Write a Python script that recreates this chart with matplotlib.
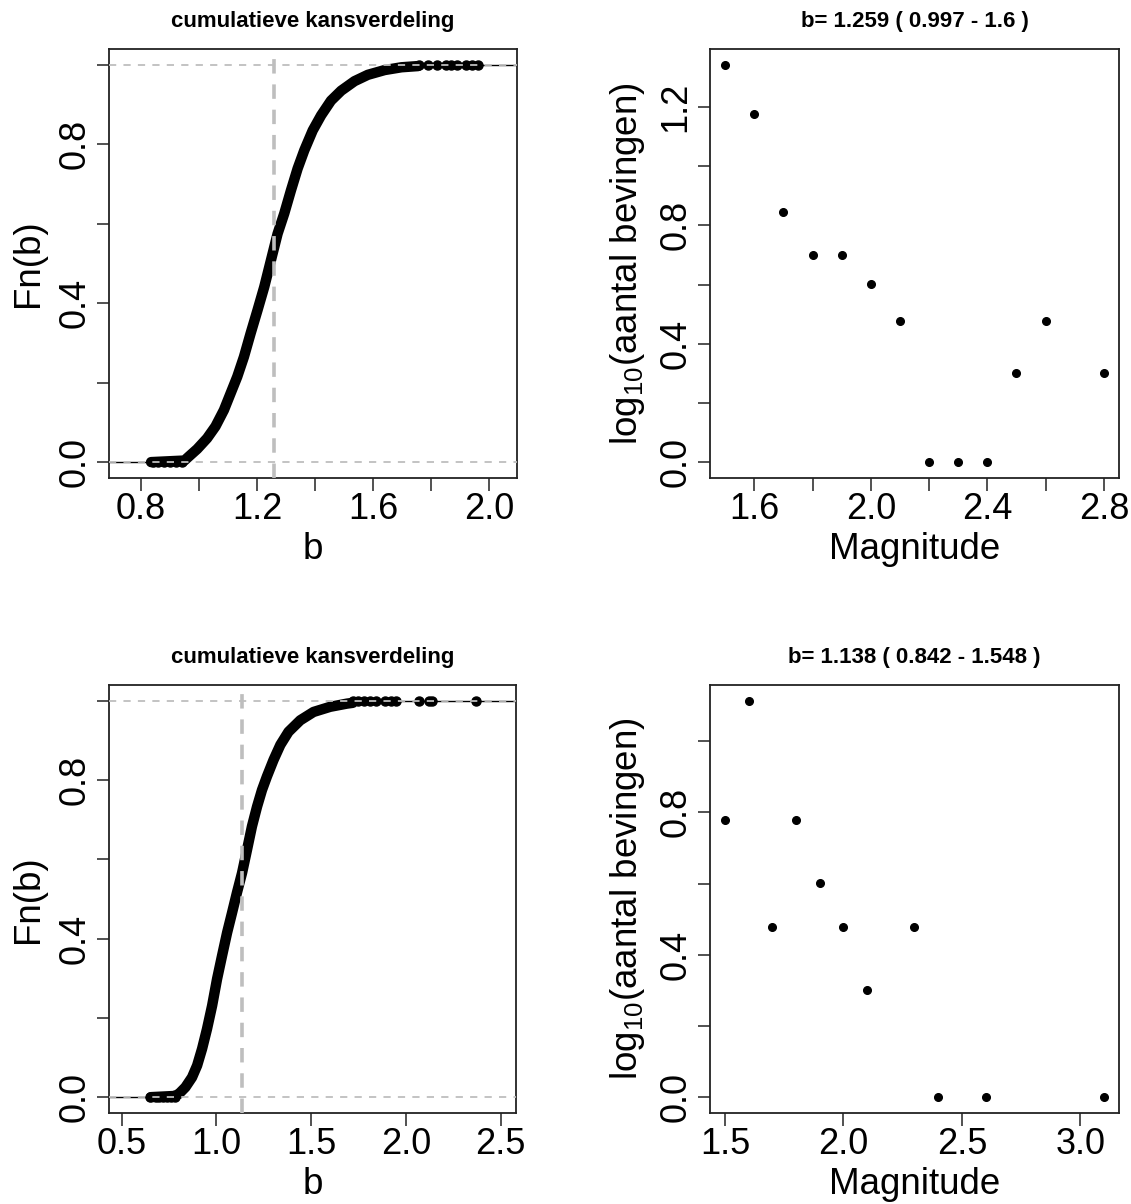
import matplotlib.pyplot as plt

plt.rcParams['font.family'] = ['Liberation Sans', 'DejaVu Sans']
plt.rcParams['mathtext.default'] = 'regular'

# --- data ---
# top row: b = 1.259 (0.997 - 1.6)
b_est_top = 1.259
title_top = "b= 1.259 ( 0.997 - 1.6 )"
ecdf_top_b = [0.835, 0.95, 0.965, 0.994, 1.028, 1.057, 1.086, 1.109, 1.132, 1.155, 1.178,
              1.202, 1.225, 1.248, 1.271, 1.294, 1.317, 1.340, 1.363, 1.392, 1.421,
              1.455, 1.490, 1.536, 1.582, 1.640, 1.698, 1.755]
ecdf_top_F = [0.0, 0.004, 0.014, 0.033, 0.060, 0.090, 0.131, 0.173, 0.215, 0.265, 0.324,
              0.383, 0.441, 0.508, 0.575, 0.626, 0.684, 0.739, 0.785, 0.835, 0.873,
              0.910, 0.935, 0.959, 0.975, 0.987, 0.994, 0.997]
tail_lo_top = [0.84, 0.86, 0.88, 0.90, 0.92, 0.94]
tail_hi_top = [1.76, 1.79, 1.82, 1.85, 1.87, 1.89, 1.92, 1.94, 1.96]
mag_top = [1.5, 1.6, 1.7, 1.8, 1.9, 2.0, 2.1, 2.2, 2.3, 2.4, 2.5, 2.6, 2.8]
logn_top = [1.342, 1.176, 0.845, 0.699, 0.699, 0.602, 0.477, 0.0, 0.0, 0.0, 0.301, 0.477, 0.301]

# bottom row: b = 1.138 (0.842 - 1.548)
b_est_bot = 1.138
title_bot = "b= 1.138 ( 0.842 - 1.548 )"
ecdf_bot_b = [0.655, 0.78, 0.802, 0.837, 0.872, 0.899, 0.925, 0.951, 0.978, 1.004, 1.030,
              1.057, 1.083, 1.109, 1.136, 1.162, 1.188, 1.215, 1.241, 1.267, 1.302,
              1.338, 1.381, 1.443, 1.513, 1.601, 1.689, 1.72]
ecdf_bot_F = [0.0, 0.003, 0.008, 0.025, 0.050, 0.080, 0.122, 0.172, 0.231, 0.298, 0.356,
              0.415, 0.465, 0.516, 0.566, 0.624, 0.683, 0.733, 0.775, 0.809, 0.851,
              0.889, 0.922, 0.951, 0.972, 0.985, 0.993, 0.995]
tail_lo_bot = [0.65, 0.68, 0.70, 0.72, 0.74, 0.76, 0.78]
tail_hi_bot = [1.72, 1.75, 1.78, 1.81, 1.84, 1.89, 1.92, 1.95, 2.07, 2.12, 2.14, 2.37]
mag_bot = [1.5, 1.6, 1.7, 1.8, 1.9, 2.0, 2.1, 2.3, 2.4, 2.6, 3.1]
logn_bot = [0.778, 1.114, 0.477, 0.778, 0.602, 0.477, 0.301, 0.477, 0.0, 0.0, 0.0]

W, H = 1131, 1204
GREY = '#BEBEBE'


def box(x0, y0, x1, y1):
    return [x0 / W, 1 - y1 / H, (x1 - x0) / W, (y1 - y0) / H]


def style(ax, xticks, xlabs, yticks, ylabs):
    ax.set_xticks(xticks)
    ax.set_xticklabels(xlabs)
    ax.set_yticks(yticks)
    ax.set_yticklabels(ylabs)
    ax.tick_params(length=9, width=1.1, labelsize=26, color='#222222')
    ax.tick_params(axis='x', pad=1)
    ax.tick_params(axis='y', labelrotation=90, pad=3)
    for lab in ax.get_yticklabels():
        lab.set_va('center')
    for s in ax.spines.values():
        s.set_linewidth(1.3)
        s.set_color('#222222')


def ecdf_panel(ax, b, F, lo, hi, best, xlim, xticks, xlabs):
    ax.set_xlim(xlim)
    ax.set_ylim(-0.04, 1.04)
    # thin end segments of the step function
    ax.plot([xlim[0], lo[0]], [0, 0], color='black', lw=1, zorder=2)
    ax.plot([hi[0], xlim[1]], [1, 1], color='black', lw=1, zorder=2)
    ax.plot(b, F, color='black', lw=7.5, solid_capstyle='round', solid_joinstyle='round', zorder=3)
    ax.plot(lo, [0] * len(lo), 'o', color='black', ms=6.5, zorder=3)
    ax.plot(hi, [1] * len(hi), 'o', color='black', ms=6.5, zorder=3)
    ax.axhline(0, color=GREY, lw=1.3, dashes=(4, 4), zorder=4)
    ax.axhline(1, color=GREY, lw=1.3, dashes=(4, 4), zorder=4)
    ax.axvline(best, color=GREY, lw=2.6, dashes=(4, 3), zorder=4)
    style(ax, xticks, xlabs, [0, 0.2, 0.4, 0.6, 0.8, 1.0], ['0.0', '', '0.4', '', '0.8', ''])
    ax.set_title('cumulatieve kansverdeling', fontsize=16, fontweight='bold', pad=16)
    ax.set_xlabel('b', fontsize=26.5, labelpad=4)
    ax.set_ylabel('Fn(b)', fontsize=26.5, labelpad=8)


def mag_panel(ax, mag, logn, title, xlim, ylim, xticks, xlabs, yticks, ylabs):
    ax.plot(mag, logn, 'o', color='black', ms=5.5)
    ax.set_xlim(xlim)
    ax.set_ylim(ylim)
    style(ax, xticks, xlabs, yticks, ylabs)
    ax.set_title(title, fontsize=16, fontweight='bold', pad=16)
    ax.set_xlabel('Magnitude', fontsize=26.5, labelpad=4)
    ax.set_ylabel('log$_{10}$(aantal bevingen)', fontsize=26.5, labelpad=8)


fig = plt.figure(figsize=(W / 100, H / 100), dpi=100)

ax1 = fig.add_axes(box(109, 49, 517, 478))
ecdf_panel(ax1, ecdf_top_b, ecdf_top_F, tail_lo_top, tail_hi_top, b_est_top,
           (0.69, 2.096), [0.8, 1.0, 1.2, 1.4, 1.6, 1.8, 2.0],
           ['0.8', '', '1.2', '', '1.6', '', '2.0'])

ax2 = fig.add_axes(box(710, 49, 1119, 478))
mag_panel(ax2, mag_top, logn_top, title_top, (1.448, 2.852), (-0.054, 1.396),
          [1.6, 1.8, 2.0, 2.2, 2.4, 2.6, 2.8], ['1.6', '', '2.0', '', '2.4', '', '2.8'],
          [0, 0.2, 0.4, 0.6, 0.8, 1.0, 1.2], ['0.0', '', '0.4', '', '0.8', '', '1.2'])

ax3 = fig.add_axes(box(109, 685, 516, 1113))
ecdf_panel(ax3, ecdf_bot_b, ecdf_bot_F, tail_lo_bot, tail_hi_bot, b_est_bot,
           (0.434, 2.581), [0.5, 1.0, 1.5, 2.0, 2.5],
           ['0.5', '1.0', '1.5', '2.0', '2.5'])

ax4 = fig.add_axes(box(710, 685, 1119, 1113))
mag_panel(ax4, mag_bot, logn_bot, title_bot, (1.436, 3.164), (-0.0446, 1.158),
          [1.5, 2.0, 2.5, 3.0], ['1.5', '2.0', '2.5', '3.0'],
          [0, 0.2, 0.4, 0.6, 0.8, 1.0], ['0.0', '', '0.4', '', '0.8', ''])

plt.savefig('out.png', dpi=100)
